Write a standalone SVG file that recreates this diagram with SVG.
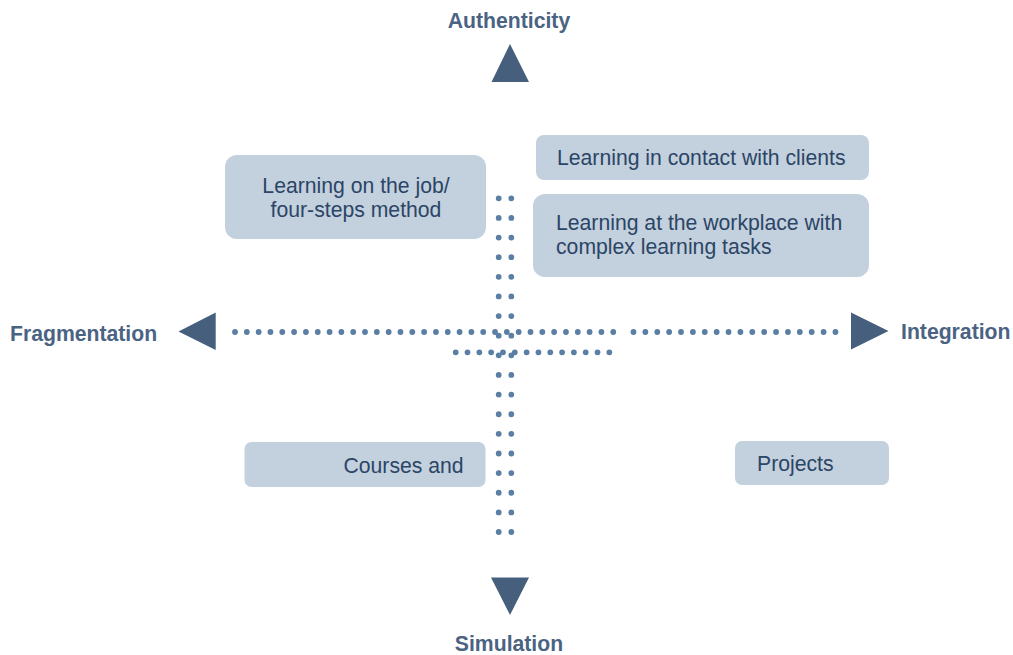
<svg xmlns="http://www.w3.org/2000/svg" width="1013" height="655" viewBox="0 0 1013 655">
  <style>
    .box { fill: #c3d0dd; }
    .bt { font-family: "Liberation Sans", Arial, sans-serif; font-size: 21.2px; fill: #2b4566; }
    .axis { font-family: "Liberation Sans", Arial, sans-serif; font-size: 21.2px; font-weight: bold; fill: #4a6383; }
    .dots { stroke: #5b7fa4; stroke-width: 5.8; stroke-linecap: round; fill: none; }
    .tri { fill: #455f7c; }
  </style>
  <rect width="1013" height="655" fill="#ffffff"/>

  <g id="connectors">
    <!-- vertical dotted axis -->
    <line class="dots" x1="498.7" y1="198.3" x2="498.7" y2="533" stroke-dasharray="0 19.63"/>
    <line class="dots" x1="511.3" y1="198.3" x2="511.3" y2="533" stroke-dasharray="0 19.63"/>
    <!-- horizontal dotted axis -->
    <line class="dots" x1="235" y1="332" x2="614" y2="332" stroke-dasharray="0 11.82"/>
    <line class="dots" x1="633.5" y1="332" x2="836" y2="332" stroke-dasharray="0 11.88"/>
    <line class="dots" x1="455.7" y1="352.3" x2="610.3" y2="352.3" stroke-dasharray="0 11.82"/>
    <!-- arrowheads -->
    <polygon class="tri" points="510,44 491.5,82 529,82"/>
    <polygon class="tri" points="491,577.5 529,577.5 510,615"/>
    <polygon class="tri" points="178.5,331.5 215.7,312.5 215.7,350"/>
    <polygon class="tri" points="851,312.5 888.5,331 851,349.5"/>
  </g>

  <g id="axis-authenticity">
    <text class="axis" x="509" y="28" text-anchor="middle">Authenticity</text>
  </g>
  <g id="axis-simulation">
    <text class="axis" x="509" y="651" text-anchor="middle">Simulation</text>
  </g>
  <g id="axis-fragmentation">
    <text class="axis" x="10" y="341">Fragmentation</text>
  </g>
  <g id="axis-integration">
    <text class="axis" x="901" y="339">Integration</text>
  </g>

  <g id="node-job">
    <rect class="box" x="225" y="155" width="261" height="84" rx="12"/>
    <text class="bt" x="356" y="193" text-anchor="middle">Learning on the job/</text>
    <text class="bt" x="356" y="217" text-anchor="middle">four-steps method</text>
  </g>
  <g id="node-clients">
    <rect class="box" x="536" y="135" width="333" height="45" rx="8"/>
    <text class="bt" x="557" y="165">Learning in contact with clients</text>
  </g>
  <g id="node-workplace">
    <rect class="box" x="533" y="194" width="336" height="83" rx="12"/>
    <text class="bt" x="556" y="230">Learning at the workplace with</text>
    <text class="bt" x="556" y="254">complex learning tasks</text>
  </g>
  <g id="node-courses">
    <rect class="box" x="244.5" y="442" width="241" height="45" rx="7"/>
    <text class="bt" x="343.5" y="473">Courses and</text>
  </g>
  <g id="node-projects">
    <rect class="box" x="735" y="441" width="154" height="44" rx="7"/>
    <text class="bt" x="757" y="471">Projects</text>
  </g>
</svg>
